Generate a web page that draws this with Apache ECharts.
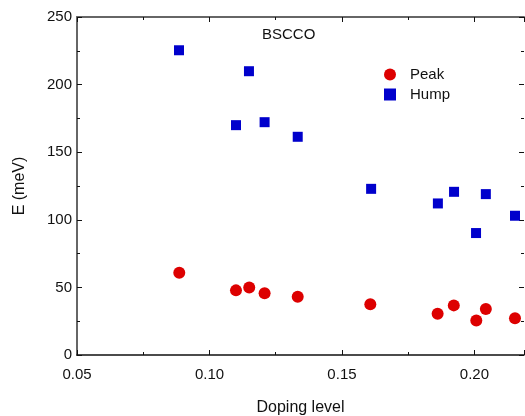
<!DOCTYPE html>
<html><head><meta charset="utf-8">
<script src="https://cdn.jsdelivr.net/npm/echarts@6/dist/echarts.min.js"></script>
<style>html,body{margin:0;padding:0;background:#fff}#c{width:525px;height:416px}</style>
</head><body><div id="c"></div>
<script>
var peakX = [0.0886, 0.110, 0.115, 0.1208, 0.1333, 0.1607, 0.1861, 0.1922, 0.2007, 0.2043, 0.2153];
var peakY = [60.8, 47.8, 50.0, 45.6, 43.1, 37.5, 30.5, 36.7, 25.6, 34.0, 27.1];
var humpX = [0.0885, 0.1149, 0.110, 0.1208, 0.1333, 0.161, 0.1862, 0.1923, 0.2043, 0.2006, 0.2153];
var humpY = [225.4, 209.9, 170.0, 172.2, 161.4, 122.9, 112.1, 120.7, 119.0, 90.2, 103.0];
var xTicks = [0.05, 0.10, 0.15, 0.20];
var yTicks = [0, 50, 100, 150, 200, 250];

var FONT = 'Liberation Sans, Arial, sans-serif';
function pairs(xs, ys){ return xs.map(function(x,i){return [x, ys[i]];}); }
var chart = echarts.init(document.getElementById('c'), null, {renderer:'canvas'});
var xMax = 0.2187;
chart.setOption({
  animation: false,
  backgroundColor: '#fff',
  grid: {left: 77, top: 17, right: 1, bottom: 61, containLabel: false, outerBoundsMode: 'none'},
  title: {text: 'BSCCO', left: 257, top: 22, textStyle: {fontFamily: FONT, fontSize: 15, fontWeight: 'normal', color: '#111'}},
  legend: {
    orient: 'vertical', left: 379, top: 62, itemWidth: 12, itemHeight: 12, itemGap: 5,
    textStyle: {fontFamily: FONT, fontSize: 15, color: '#111', padding: [0,0,0,9], lineHeight: 12},
    data: [{name: 'Peak', icon: 'circle'}, {name: 'Hump', icon: 'rect'}]
  },
  xAxis: [{
    type: 'value', min: 0.05, max: xMax, interval: 0.05,
    name: 'Doping level', nameLocation: 'middle', nameGap: 45,
    nameTextStyle: {fontFamily: FONT, fontSize: 16, color: '#111'},
    axisLine: {onZero: false, lineStyle: {color: '#111', width: 1.5}},
    axisTick: {inside: true, length: 5, lineStyle: {color: '#111'}},
    minorTick: {show: true, splitNumber: 2, length: 3, lineStyle: {color: '#111'}},
    axisLabel: {fontFamily: FONT, fontSize: 15, color: '#111', margin: 12, showMaxLabel: false,
      formatter: function(v){ return xTicks.indexOf(Math.round(v*100)/100) >= 0 ? v.toFixed(2) : ''; }},
    splitLine: {show: false}
  }, {
    type: 'value', position: 'top', min: 0.05, max: xMax, interval: 0.05,
    axisLine: {show: true, onZero: false, lineStyle: {color: '#666', width: 2}},
    axisTick: {inside: true, length: 5, lineStyle: {color: '#111'}},
    minorTick: {show: true, splitNumber: 2, length: 3, lineStyle: {color: '#111'}},
    axisLabel: {show: false}, splitLine: {show: false}
  }],
  yAxis: [{
    type: 'value', min: 0, max: 250, interval: 50,
    name: 'E (meV)', nameLocation: 'middle', nameGap: 49, nameRotate: 90,
    nameTextStyle: {fontFamily: FONT, fontSize: 16, color: '#111'},
    axisLine: {show: true, onZero: false, lineStyle: {color: '#666', width: 2}},
    axisTick: {show: true, inside: true, length: 5, lineStyle: {color: '#111'}},
    minorTick: {show: true, splitNumber: 2, length: 3, lineStyle: {color: '#111'}},
    axisLabel: {fontFamily: FONT, fontSize: 15, color: '#111', margin: 5},
    splitLine: {show: false}
  }, {
    type: 'value', position: 'right', min: 0, max: 250, interval: 50,
    axisLine: {show: false, onZero: false},
    axisTick: {show: true, inside: true, length: 5, lineStyle: {color: '#111'}},
    minorTick: {show: true, splitNumber: 2, length: 3, lineStyle: {color: '#111'}},
    axisLabel: {show: false}, splitLine: {show: false}
  }],
  series: [{
    name: 'Peak', type: 'scatter', symbol: 'circle', symbolSize: 12,
    itemStyle: {color: '#dd0000', opacity: 1}, data: pairs(peakX, peakY)
  }, {
    name: 'Hump', type: 'scatter', symbol: 'rect', symbolSize: 10,
    itemStyle: {color: '#0000cc', opacity: 1}, data: pairs(humpX, humpY)
  }]
});
</script></body></html>
